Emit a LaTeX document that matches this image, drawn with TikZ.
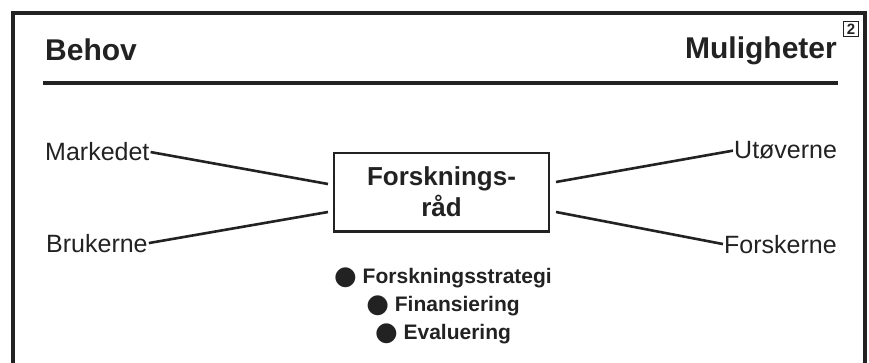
\documentclass[tikz,border=0pt]{standalone}
\usepackage{fontspec}
\setmainfont{Liberation Sans}
\newfontfamily\symfont{DejaVu Sans}
\definecolor{ink}{RGB}{34,34,34}
\newcommand{\bul}{{\symfont\fontsize{26}{26}\selectfont\raisebox{-1pt}{●}}}
\begin{document}
\begin{tikzpicture}[x=1pt,y=-1pt,
  head/.style={inner sep=0pt,font=\fontsize{30}{36}\selectfont\bfseries,text=ink},
  lab/.style={inner sep=1pt,font=\fontsize{25}{30}\selectfont,text=ink},
  conn/.style={draw=ink,line width=2.6pt},
  rbox/.style={draw=ink,line width=1.8pt,minimum width=215pt,minimum height=78pt,
     inner sep=0pt,align=center,font=\fontsize{26}{31}\selectfont\bfseries,text=ink},
  items/.style={inner sep=0pt,align=center,font=\fontsize{21}{28}\selectfont\bfseries,text=ink}]
\useasboundingbox (0,0) rectangle (869,363);
\fill[white] (0,0) rectangle (869,363);
% frame
\draw[ink,line width=3.5pt] (13,368) -- (13,13) -- (865,13) -- (865,368);
% headings
\node[head,anchor=base west] (behov) at (45,61) {Behov};
\node[head,anchor=base east] (mul) at (837,59) {Muligheter};
\node[draw=ink,line width=1.8pt,inner sep=0pt,minimum size=15pt,
  font=\fontsize{15}{15}\selectfont\bfseries,text=ink] (two) at (851,29) {2};
\draw[ink,line width=4pt] (43,83) -- (838,83);
% central box
\node[rbox] (box) at (441.5,192) {Forsknings-\\råd};
\draw[ink,line width=3pt] (box.south west) -- (box.south east);
% labels
\node[lab,anchor=base west] (mark) at (44,161) {Markedet};
\node[lab,anchor=base west] (bruk) at (45,252) {Brukerne};
\node[lab,anchor=base west] (utov) at (733,159) {Utøverne};
\node[lab,anchor=base west] (forsk) at (723,253) {Forskerne};
% connector ends near the box
\coordinate (bl1) at (328,184);
\coordinate (bl2) at (328,212);
\coordinate (br1) at (556,182);
\coordinate (br2) at (556,212);
\draw[conn] (mark.east) -- (bl1);
\draw[conn] (bruk.east) -- (bl2);
\draw[conn] (br1) -- (utov.west);
\draw[conn] (br2) -- (forsk.west);
% bullet list
\node[items,anchor=north] (list) at (443,268) {\bul\ Forskningsstrategi\\ \bul\ Finansiering\\ \bul\ Evaluering};
\end{tikzpicture}
\end{document}
